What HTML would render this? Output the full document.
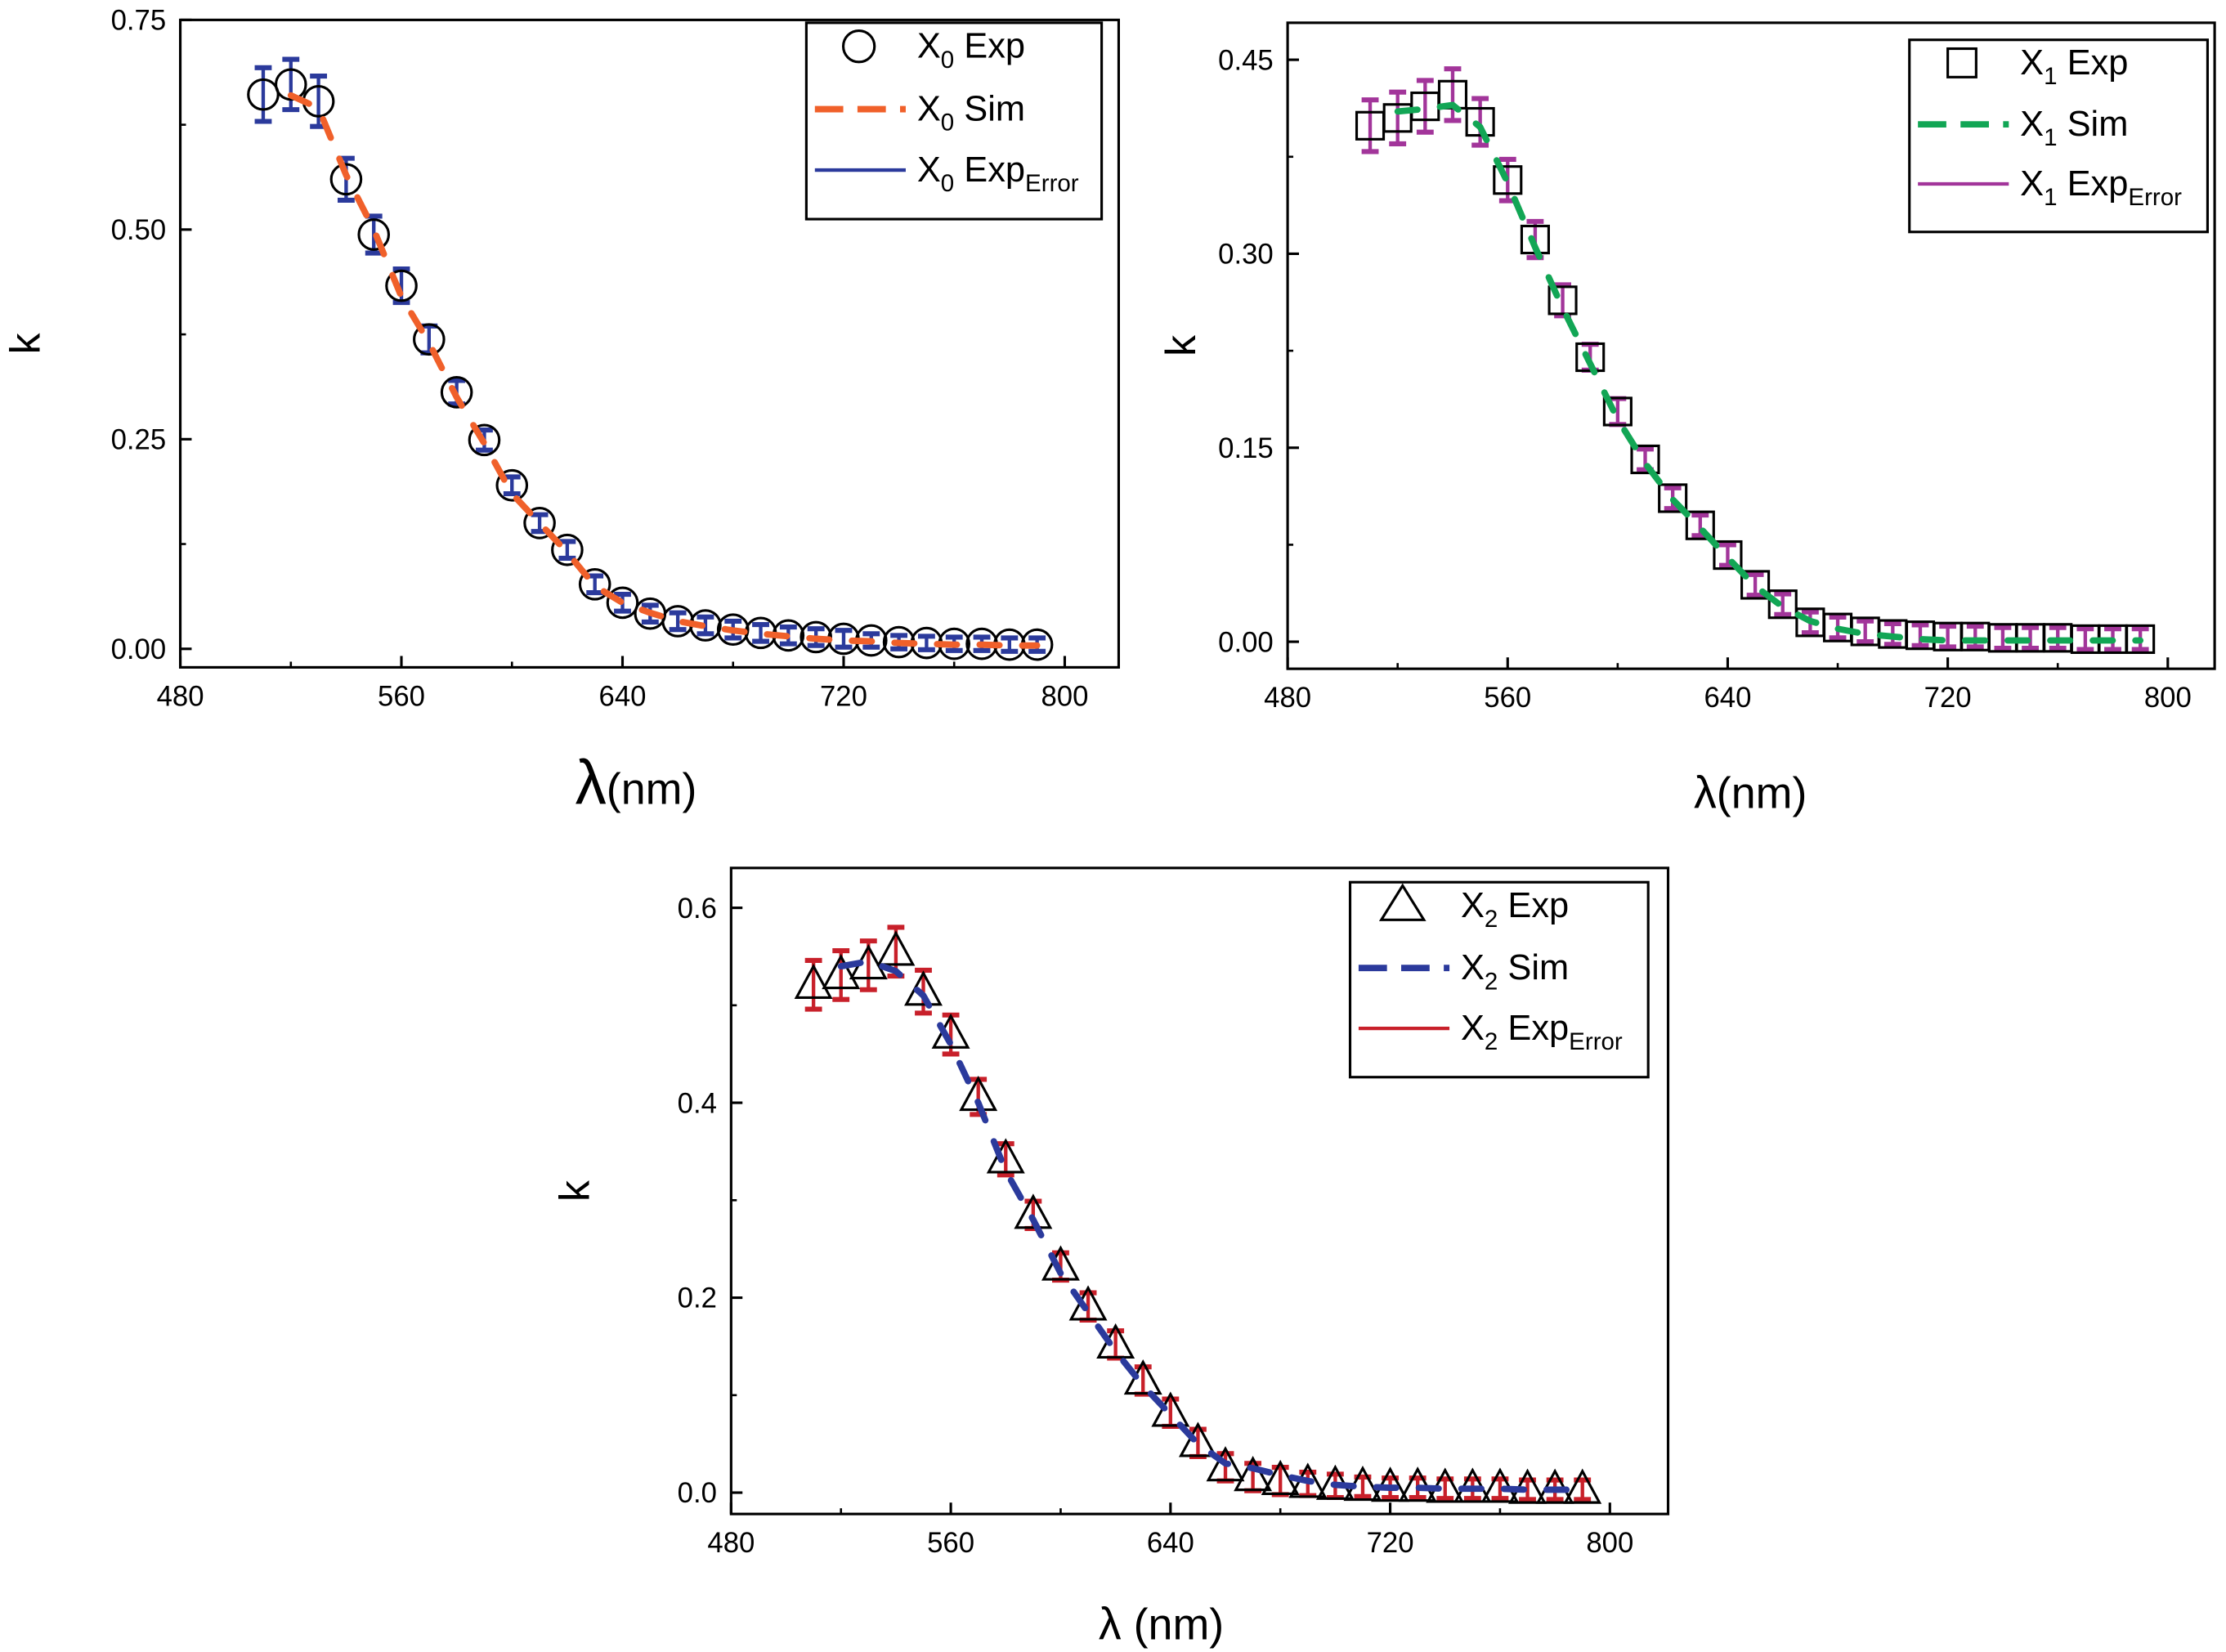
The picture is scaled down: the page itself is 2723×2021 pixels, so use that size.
<!DOCTYPE html>
<html><head><meta charset="utf-8"><style>
html,body{margin:0;padding:0;background:#fff;}
svg{display:block;font-family:"Liberation Sans",Arial,sans-serif;}
</style></head><body>
<svg id="fig" width="2723" height="2021" viewBox="0 0 1568 1161" preserveAspectRatio="none" xmlns="http://www.w3.org/2000/svg"></svg>
<script>
const wavelengths = [510,520,530,540,550,560,570,580,590,600,610,620,630,640,650,660,670,680,690,700,710,720,730,740,750,760,770,780,790];
const x0Exp = [0.661,0.673,0.653,0.560,0.494,0.433,0.369,0.306,0.249,0.195,0.150,0.118,0.077,0.055,0.042,0.033,0.028,0.023,0.019,0.016,0.014,0.012,0.010,0.008,0.007,0.006,0.006,0.005,0.005];
const x0Err = [0.032,0.030,0.030,0.025,0.022,0.020,0.016,0.014,0.012,0.010,0.010,0.010,0.010,0.010,0.010,0.010,0.010,0.010,0.010,0.010,0.010,0.010,0.008,0.008,0.008,0.008,0.008,0.008,0.008];
const x0Sim = [null,0.660,0.645,0.565,0.500,0.420,0.365,0.300,0.245,0.185,0.150,0.115,0.075,0.055,0.043,0.033,0.027,0.022,0.018,0.015,0.012,0.010,0.009,0.007,0.006,0.005,0.005,0.004,0.004];
const x1Exp = [0.399,0.405,0.414,0.423,0.402,0.357,0.311,0.264,0.220,0.178,0.141,0.111,0.090,0.067,0.044,0.029,0.015,0.011,0.008,0.006,0.005,0.004,0.004,0.003,0.003,0.003,0.002,0.002,0.002];
const x1Err = [0.020,0.020,0.020,0.020,0.018,0.016,0.014,0.012,0.010,0.010,0.008,0.008,0.008,0.008,0.008,0.008,0.008,0.008,0.008,0.008,0.008,0.008,0.008,0.008,0.008,0.008,0.008,0.008,0.008];
const x1Sim = [null,0.410,0.412,0.415,0.398,0.355,0.305,0.258,0.215,0.172,0.138,0.110,0.088,0.065,0.043,0.027,0.016,0.010,0.006,0.004,0.002,0.001,0.001,0.001,0.001,0.001,0.001,0.001,0.001];
const x2Exp = [0.521,0.531,0.541,0.555,0.514,0.470,0.406,0.342,0.285,0.232,0.191,0.152,0.115,0.082,0.051,0.026,0.016,0.012,0.009,0.007,0.006,0.005,0.005,0.004,0.004,0.004,0.003,0.003,0.003];
const x2Err = [0.025,0.025,0.025,0.025,0.022,0.020,0.018,0.016,0.014,0.014,0.014,0.014,0.014,0.014,0.014,0.014,0.014,0.014,0.012,0.012,0.010,0.010,0.010,0.010,0.010,0.010,0.010,0.010,0.010];
const x2Sim = [null,0.540,0.545,0.535,0.510,0.460,0.400,0.330,0.280,0.225,0.185,0.145,0.110,0.080,0.050,0.030,0.025,0.018,0.012,0.008,0.006,0.005,0.005,0.004,0.004,0.004,0.003,0.003,0.003];
const xTicks = [480,560,640,720,800];
const y0Ticks = ["0.00","0.25","0.50","0.75"];
const y1Ticks = ["0.00","0.15","0.30","0.45"];
const y2Ticks = ["0.0","0.2","0.4","0.6"];

const NS="http://www.w3.org/2000/svg";
const svg=document.getElementById('fig');
function mk(tag,attrs,parent,text){const e=document.createElementNS(NS,tag);for(const k in attrs)e.setAttribute(k,attrs[k]);if(text!==undefined)e.textContent=text;(parent||svg).appendChild(e);return e;}

function panel(cfg){
  const g=mk('g',{});
  
  
  const {L,R,T,B,x480,x800,y0,yTop,yTopVal}=cfg;
  const sx=v=>x480+(v-480)/320*(x800-x480);
  const sy=v=>y0-(v/yTopVal)*(y0-yTop);
  const ser=mk('g',{},g);
  
  
  wavelengths.forEach((w,i)=>{
    const x=sx(w),yt=sy(cfg.exp[i]+cfg.err[i]),yb=sy(cfg.exp[i]-cfg.err[i]);
    mk('line',{x1:x,x2:x,y1:yt,y2:yb,stroke:cfg.errColor,'stroke-width':2.5},ser);
    mk('line',{x1:x-6,x2:x+6,y1:yt,y2:yt,stroke:cfg.errColor,'stroke-width':3.5},ser);
    mk('line',{x1:x-6,x2:x+6,y1:yb,y2:yb,stroke:cfg.errColor,'stroke-width':3.5},ser);
  });
  const mg=mk('g',{},g);
  
  
  wavelengths.forEach((w,i)=>{
    const x=sx(w),y=sy(cfg.exp[i]);
    let m;
    if(cfg.marker==='circle') m=mk('circle',{cx:x,cy:y,r:10.5,fill:'none',stroke:'#000','stroke-width':1.8},mg);
    else if(cfg.marker==='square') m=mk('rect',{x:x-9.5,y:y-9.5,width:19,height:19,fill:'none',stroke:'#000','stroke-width':1.8},mg);
    else m=mk('polygon',{points:`${x},${y-13} ${x-12},${y+9} ${x+12},${y+9}`,fill:'none',stroke:'#000','stroke-width':1.8},mg);
    
    
  });
  let d='';
  wavelengths.forEach((w,i)=>{const v=cfg.sim[i];if(v===null)return;d+=(d?'L':'M')+sx(w)+','+sy(v);});
  const sp=mk('path',{d:d,fill:'none',stroke:cfg.simColor,'stroke-width':4.5,'stroke-dasharray':'14 16','stroke-linecap':'round'},g);
  
  
  const fr=mk('rect',{x:L,y:T,width:R-L,height:B-T,fill:'none',stroke:'#000','stroke-width':1.8},g);
  
  
  const xa=mk('g',{},g);
  
  
  xTicks.forEach(t=>{const x=sx(t);mk('line',{x1:x,x2:x,y1:B,y2:B-8,stroke:'#000','stroke-width':1.8},xa);
    const tx=mk('text',{x:x,y:B+27,'font-size':20,'text-anchor':'middle'},xa,String(t));
    
    });
  for(let t=520;t<800;t+=80){const x=sx(t);mk('line',{x1:x,x2:x,y1:B,y2:B-4,stroke:'#000','stroke-width':1.5},xa);}
  const ya=mk('g',{},g);
  
  
  cfg.yTicks.forEach((lab,i)=>{const v=yTopVal*i/(cfg.yTicks.length-1);const y=sy(v);
    mk('line',{x1:L,x2:L+8,y1:y,y2:y,stroke:'#000','stroke-width':1.8},ya);
    if(i<cfg.yTicks.length-1){const ym=sy(v+yTopVal/(cfg.yTicks.length-1)/2);mk('line',{x1:L,x2:L+4,y1:ym,y2:ym,stroke:'#000','stroke-width':1.5},ya);}
    const tx=mk('text',{x:L-10,y:y+7,'font-size':20,'text-anchor':'end'},ya,lab);
    
    });
  const yt=mk('text',{x:cfg.kx,y:(T+B)/2,'font-size':30,'text-anchor':'middle',transform:`rotate(-90 ${cfg.kx} ${(T+B)/2})`},g,'k');
  
  
  const xt=mk('text',{x:cfg.tx,y:cfg.ty,'font-size':31,'text-anchor':'middle'},g);
  
  
  mk('tspan',{'font-size':cfg.lamSize||32},xt,'λ');
  mk('tspan',{},xt,cfg.nmText);
  const [lx,ly,lw,lh]=cfg.legend;
  const lg=mk('g',{},g);
  
  
  mk('rect',{x:lx,y:ly,width:lw,height:lh,fill:'#fff',stroke:'#000','stroke-width':1.8},lg);
  const rows=[ly+lh*0.12,ly+lh*0.44,ly+lh*0.75];
  const sxm=lx+37;
  if(cfg.marker==='circle') mk('circle',{cx:sxm,cy:rows[0],r:11,fill:'none',stroke:'#000','stroke-width':1.8},lg);
  else if(cfg.marker==='square') mk('rect',{x:sxm-10,y:rows[0]-10,width:20,height:20,fill:'none',stroke:'#000','stroke-width':1.8},lg);
  else mk('polygon',{points:`${sxm},${rows[0]-14} ${sxm-15},${rows[0]+10} ${sxm+15},${rows[0]+10}`,fill:'none',stroke:'#000','stroke-width':1.8},lg);
  mk('line',{x1:lx+6,x2:lx+70,y1:rows[1],y2:rows[1],stroke:cfg.simColor,'stroke-width':4.5,'stroke-dasharray':'20 10'},lg);
  mk('line',{x1:lx+6,x2:lx+70,y1:rows[2],y2:rows[2],stroke:cfg.errColor,'stroke-width':2.5},lg);
  const labs=[['Exp',''],['Sim',''],['Exp','Error']];
  labs.forEach((l,i)=>{
    const t=mk('text',{x:lx+78,y:rows[i]+8,'font-size':25},lg);
    
    
    mk('tspan',{},t,'X');
    mk('tspan',{dy:7,'font-size':17},t,cfg.idx);
    mk('tspan',{dy:-7},t,' '+l[0]);
    if(l[1]) mk('tspan',{dy:7,'font-size':17},t,l[1]);
  });
}

panel({name:'chart-x0',L:127,R:788,T:14,B:469,x480:127,x800:750,y0:456,yTop:14,yTopVal:0.75,
  exp:x0Exp,err:x0Err,sim:x0Sim,marker:'circle',errColor:'#2b3a9c',simColor:'#f0602a',
  yTicks:y0Ticks,kx:28,tx:448,ty:565,lamSize:44,nmText:'(nm)',legend:[568,16,208,138],idx:'0'});
panel({name:'chart-x1',L:907,R:1560,T:16,B:470,x480:907,x800:1527,y0:451,yTop:42,yTopVal:0.45,
  exp:x1Exp,err:x1Err,sim:x1Sim,marker:'square',errColor:'#a2359a',simColor:'#12a655',
  yTicks:y1Ticks,kx:842,tx:1233,ty:568,nmText:'(nm)',legend:[1345,28,210,135],idx:'1'});
panel({name:'chart-x2',L:515,R:1175,T:610,B:1064,x480:515,x800:1134,y0:1049,yTop:638,yTopVal:0.6,
  exp:x2Exp,err:x2Err,sim:x2Sim,marker:'triangle',errColor:'#c8202a',simColor:'#2b3a9c',
  yTicks:y2Ticks,kx:415,tx:818,ty:1152,nmText:' (nm)',legend:[951,620,210,137],idx:'2'});
</script>
</body></html>
